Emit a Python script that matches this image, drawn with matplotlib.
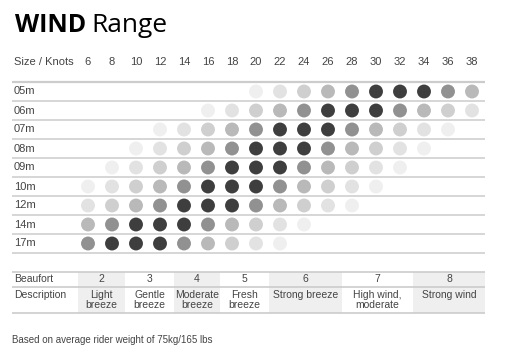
import numpy as np
import matplotlib.pyplot as plt

W, H = 507, 358

knots = [6, 8, 10, 12, 14, 16, 18, 20, 22, 24, 26, 28, 30, 32, 34, 36, 38]
sizes = ["05m", "06m", "07m", "08m", "09m", "10m", "12m", "14m", "17m"]
# intensity per size / knot, 0 = no dot, 6 = darkest
levels = [
    [0, 0, 0, 0, 0, 0, 0, 1, 2, 3, 4, 5, 6, 6, 6, 5, 4],
    [0, 0, 0, 0, 0, 1, 2, 3, 4, 5, 6, 6, 6, 5, 4, 3, 2],
    [0, 0, 0, 1, 2, 3, 4, 5, 6, 6, 6, 5, 4, 3, 2, 1, 0],
    [0, 0, 1, 2, 3, 4, 5, 6, 6, 6, 5, 4, 3, 2, 1, 0, 0],
    [0, 1, 2, 3, 4, 5, 6, 6, 6, 5, 4, 3, 2, 1, 0, 0, 0],
    [1, 2, 3, 4, 5, 6, 6, 6, 5, 4, 3, 2, 1, 0, 0, 0, 0],
    [2, 3, 4, 5, 6, 6, 6, 5, 4, 3, 2, 1, 0, 0, 0, 0, 0],
    [4, 5, 6, 6, 6, 5, 4, 3, 2, 1, 0, 0, 0, 0, 0, 0, 0],
    [5, 6, 6, 6, 5, 4, 3, 2, 1, 0, 0, 0, 0, 0, 0, 0, 0],
]
beaufort = ["2", "3", "4", "5", "6", "7", "8"]
descriptions = ["Light\nbreeze", "Gentle\nbreeze", "Moderate\nbreeze", "Fresh\nbreeze",
                "Strong breeze", "High wind,\nmoderate", "Strong wind"]

shades = ["none", "#efefef", "#e2e2e2", "#cfcfcf", "#b9b9b9", "#919191", "#3e3e3f"]
txt = "#444444"
line_c = "#d6d6d6"
font = "Liberation Sans"

def px_axes(fig, x0, y0, x1, y1):
    return fig.add_axes([x0 / W, 1 - y1 / H, (x1 - x0) / W, (y1 - y0) / H])

fig = plt.figure(figsize=(W / 100, H / 100), dpi=100)
fig.patch.set_facecolor("white")

fig.text(15 / W, 1 - 32 / H, "WIND", fontsize=18, fontweight="bold", family="Open Sans", color="black")
fig.text(91 / W, 1 - 32 / H, "Range", fontsize=19, family="Open Sans", color="black")

# dot grid
ax = px_axes(fig, 12, 50, 485, 255)
ax.set_xlim(6 - 76 / 12, 6 + 397 / 12)
ax.set_ylim((255 - 91.5) / 19, (50 - 91.5) / 19)
ax.axis("off")

lv = np.array(levels)
xx, yy = np.meshgrid(knots, np.arange(len(sizes)))
mask = lv > 0
ax.scatter(xx[mask], yy[mask], s=100, c=[shades[v] for v in lv[mask]], linewidths=0, zorder=3)

label_x = 6 - 74 / 12
ax.text(label_x, -1.55, "Size / Knots", fontsize=8, color=txt, family=font, va="center")
for k in knots:
    ax.text(k, -1.55, str(k), fontsize=8, color=txt, family=font, va="center", ha="center")
for i, s in enumerate(sizes):
    ax.text(label_x, i, s, fontsize=8, color=txt, family=font, va="center")
ax.hlines([-0.5], *ax.get_xlim(), color="#cccccc", lw=1.6)
ax.hlines(np.arange(len(sizes)) + 0.5, *ax.get_xlim(), color=line_c, lw=1.4)

# beaufort table
edges = [12, 78, 125, 174, 220, 269, 342, 413, 485]
tb = px_axes(fig, 12, 270, 485, 315)
tb.set_xlim(12, 485)
tb.set_ylim(315, 270)
tb.axis("off")
for j, (b, d) in enumerate(zip(beaufort, descriptions)):
    l, r = edges[j + 1], edges[j + 2]
    if j % 2 == 0:
        tb.bar((l + r) / 2, 41, width=r - l, bottom=272, color="#efefef", zorder=0)
    tb.text((l + r) / 2, 279.5, b, fontsize=7.5, color=txt, family=font, ha="center", va="center")
    tb.text((l + r) / 2, 290, d, fontsize=7.5, color=txt, family=font, ha="center", va="top",
            linespacing=0.95)
tb.text(14, 279.5, "Beaufort", fontsize=7.5, color=txt, family=font, va="center")
tb.text(14, 290, "Description", fontsize=7.5, color=txt, family=font, va="top")
tb.hlines([272, 287, 313], 12, 485, color="#cccccc", lw=1.2)

fig.text(12 / W, 1 - 340 / H, "Based on average rider weight of 75kg/165 lbs",
         fontsize=7, color=txt, family=font, va="center")

fig.savefig("out.png", dpi=100)
